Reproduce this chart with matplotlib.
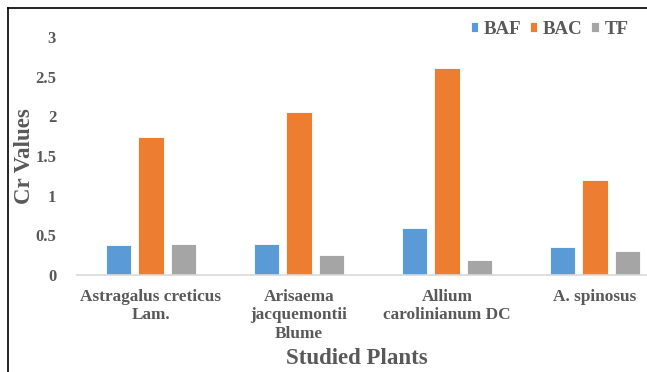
import matplotlib.pyplot as plt
import numpy as np
from matplotlib.lines import Line2D

plants = ["Astragalus creticus\nLam.", "Arisaema\njacquemontii\nBlume",
          "Allium\ncarolinianum DC", "A. spinosus"]
baf = [0.38, 0.39, 0.59, 0.35]
bac = [1.74, 2.06, 2.61, 1.20]
tf = [0.39, 0.25, 0.19, 0.30]
yticks = [0, 0.5, 1, 1.5, 2, 2.5, 3]
yticklabels = ["0", "0.5", "1", "1.5", "2", "2.5", "3"]

plt.rcParams["font.family"] = "Liberation Serif"
plt.rcParams["font.weight"] = "bold"
txt = "#595959"

W, H = 647, 372
fig = plt.figure(figsize=(W / 100, H / 100), dpi=100)
# plot area runs past the right edge of the figure
ax = fig.add_axes([77 / W, (H - 275) / H, 592 / W, 238 / H])

x = np.arange(len(plants)) + 0.5
w = 0.172
off = 0.22
ax.bar(x - off, baf, w, color="#5B9BD5", edgecolor="white", linewidth=0.6, label="BAF")
ax.bar(x, bac, w, color="#ED7D31", edgecolor="white", linewidth=0.6, label="BAC")
ax.bar(x + off, tf, w, color="#A5A5A5", edgecolor="white", linewidth=0.6, label="TF")

ax.set_xlim(0, 4)
ax.set_ylim(0, 3)
ax.set_yticks(yticks)
ax.set_yticklabels(yticklabels)
ax.set_xticks(x)
ax.set_xticklabels(plants, linespacing=1.2)
ax.tick_params(axis="both", length=0, colors=txt, labelsize=12.4)
ax.tick_params(axis="y", pad=15, labelsize=12)
ax.tick_params(axis="x", pad=10)
for s in ["top", "right", "left"]:
    ax.spines[s].set_visible(False)
ax.spines["bottom"].set_color("#D9D9D9")
ax.spines["bottom"].set_linewidth(1.2)

fig.text(357 / W, 1 - 359 / H, "Studied Plants", ha="center", va="center",
         fontsize=16.5, color=txt)
fig.text(25 / W, 1 - 156 / H, "Cr Values", ha="center", va="center",
         rotation=90, fontsize=16.5, color=txt)

leg = fig.legend(loc="center right", bbox_to_anchor=(638 / W, 1 - 29 / H), ncol=3,
                 frameon=False, fontsize=13.6, handlelength=0.4, handleheight=0.4,
                 handletextpad=0.3, columnspacing=0.45, borderpad=0)
for t in leg.get_texts():
    t.set_color(txt)

# outer frame, top and left edges
fig.add_artist(Line2D([8 / W, 1], [1 - 8 / H, 1 - 8 / H], color="black", lw=1.2))
fig.add_artist(Line2D([8 / W, 8 / W], [0, 1 - 8 / H], color="black", lw=1.2))

fig.savefig("out.png", dpi=100)
